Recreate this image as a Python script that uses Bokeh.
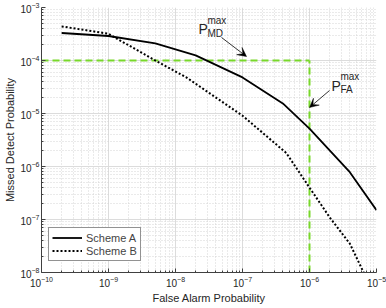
from bokeh.plotting import figure
from bokeh.models import Range1d, FixedTicker, Legend, LegendItem, Label, Arrow, VeeHead, LogTickFormatter
from bokeh.embed import file_html
from bokeh.resources import INLINE

# ---- data ----
pfa_a = [2e-10, 1e-9, 5e-9, 2e-8, 1e-7, 4e-7, 1e-6, 4e-6, 1e-5]
pmd_a = [3.3e-4, 2.9e-4, 2.1e-4, 1.25e-4, 4.8e-5, 1.55e-5, 5.2e-6, 7.8e-7, 1.5e-7]

pfa_b = [2e-10, 1e-9, 1.4e-9, 5e-9, 1.45e-8, 1e-7, 4.5e-7, 1e-6, 2e-6, 4e-6, 7e-6]
pmd_b = [4.4e-4, 3.2e-4, 2.5e-4, 1.0e-4, 4.8e-5, 9.1e-6, 1.8e-6, 4.0e-7, 1.1e-7, 3.5e-8, 8e-9]

pfa_max = 1e-6
pmd_max = 1e-4

x_decades = [1e-10, 1e-9, 1e-8, 1e-7, 1e-6, 1e-5]
y_decades = [1e-8, 1e-7, 1e-6, 1e-5, 1e-4, 1e-3]

labels = ["Scheme A", "Scheme B"]

FONT = "Liberation Sans"
GREEN = "#78d82a"


def minors(decades):
    out = []
    for d in decades[:-1]:
        out += [d * k for k in range(2, 10)]
    return out


p = figure(width=386, height=308, x_axis_type="log", y_axis_type="log",
           x_range=Range1d(x_decades[0], x_decades[-1]),
           y_range=Range1d(y_decades[0], y_decades[-1]),
           output_backend="svg", toolbar_location=None,
           min_border_left=41, min_border_right=10, min_border_top=7, min_border_bottom=36)
p.outline_line_color = None
p.background_fill_color = "white"

p.xaxis.ticker = FixedTicker(ticks=x_decades, minor_ticks=minors(x_decades))
p.yaxis.ticker = FixedTicker(ticks=y_decades, minor_ticks=minors(y_decades))
p.xaxis.formatter = LogTickFormatter()
p.yaxis.formatter = LogTickFormatter()

for ax in (p.xaxis, p.yaxis):
    ax.axis_line_color = "#404040"
    ax.major_tick_line_color = "#404040"
    ax.minor_tick_line_color = "#404040"
    ax.major_tick_in = 4
    ax.major_tick_out = 0
    ax.minor_tick_in = 2
    ax.minor_tick_out = 0
    ax.major_label_text_font = FONT
    ax.major_label_text_font_size = "10px"
    ax.major_label_text_color = "#262626"
    ax.axis_label_text_font = FONT
    ax.axis_label_text_font_size = "11px"
    ax.axis_label_text_font_style = "normal"
    ax.axis_label_text_color = "#262626"
    ax.major_label_standoff = 3
    ax.axis_label_standoff = 2

p.xaxis.axis_label = "False Alarm Probability"
p.yaxis.axis_label = "Missed Detect Probability"
p.yaxis.major_label_standoff = 2
p.yaxis.axis_label_standoff = 1

for g in (p.xgrid, p.ygrid):
    g.grid_line_color = "#dcdcdc"
    g.grid_line_width = 1
    g.minor_grid_line_color = "#d4d4d4"
    g.minor_grid_line_dash = "1 2"
    g.minor_grid_line_width = 1

# threshold lines
p.line([x_decades[0], pfa_max], [pmd_max, pmd_max], line_color=GREEN, line_width=2, line_dash="7 4")
p.line([pfa_max, pfa_max], [y_decades[0], pmd_max], line_color=GREEN, line_width=2, line_dash="7 4")

ra = p.line(pfa_a, pmd_a, line_color="black", line_width=1.8)
rb = p.line(pfa_b, pmd_b, line_color="black", line_width=2, line_dash="2 2")

legend = Legend(items=[LegendItem(label=labels[0], renderers=[ra]),
                       LegendItem(label=labels[1], renderers=[rb])],
                location=(7, 11), margin=0, padding=3, spacing=0,
                label_height=12, glyph_height=13, glyph_width=30, label_standoff=4,
                label_text_font=FONT, label_text_font_size="11px",
                border_line_color="#262626", border_line_width=1,
                background_fill_color="white", background_fill_alpha=1)
p.add_layout(legend, "center")


def txt(xl, yl, s, size, xo=0, yo=0):
    p.add_layout(Label(x=10 ** xl, y=10 ** yl, text=s, x_offset=xo, y_offset=yo,
                       text_font=FONT, text_font_size=size, text_color="#262626",
                       text_baseline="alphabetic", text_align="left"))


# P_MD^max annotation
md_pos = (-7.657, -3.415)
txt(md_pos[0], md_pos[1], "P", "14px")
txt(md_pos[0], md_pos[1], "max", "10px", 9, 9)
txt(md_pos[0], md_pos[1], "MD", "10px", 9, -4)
# P_FA^max annotation
fa_pos = (-5.672, -4.472)
txt(fa_pos[0], fa_pos[1], "P", "14px")
txt(fa_pos[0], fa_pos[1], "max", "10px", 9, 9)
txt(fa_pos[0], fa_pos[1], "FA", "10px", 9, -4)

md_arrow = ((-7.313, -3.566), (-6.94, -3.925))
fa_arrow = ((-5.701, -4.566), (-6.0, -4.887))
for (s, e) in (md_arrow, fa_arrow):
    p.add_layout(Arrow(x_start=10 ** s[0], y_start=10 ** s[1], x_end=10 ** e[0], y_end=10 ** e[1],
                       line_color="black", line_width=0.8,
                       end=VeeHead(size=9, fill_color="black", line_color="black", line_width=0.5)))

open("out.html", "w").write(file_html(p, INLINE))
